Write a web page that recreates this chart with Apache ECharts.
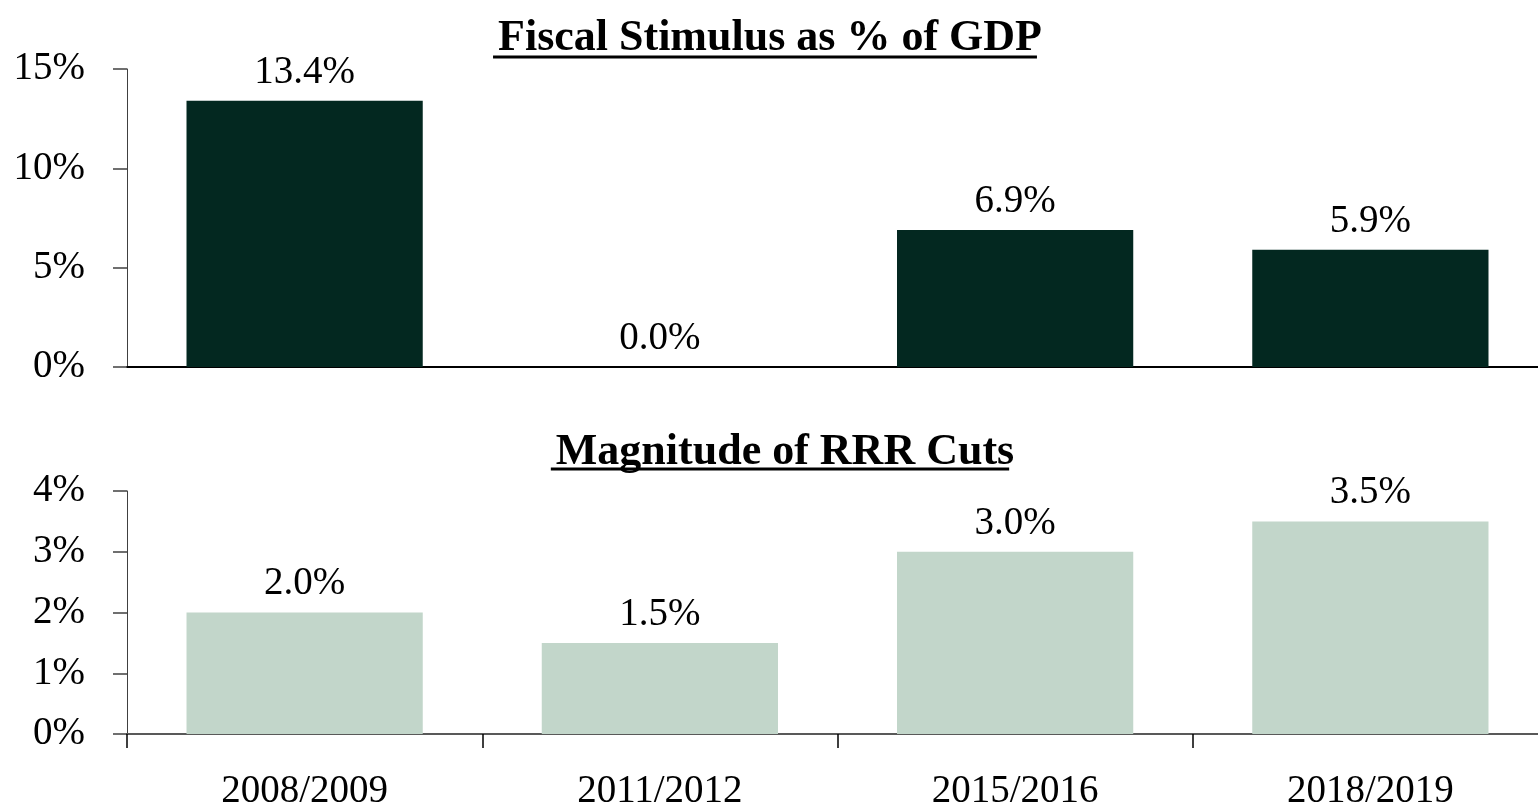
<!DOCTYPE html>
<html>
<head>
<meta charset="utf-8">
<script src="https://cdn.jsdelivr.net/npm/echarts@6/dist/echarts.min.js"></script>
<style>
  html, body { margin: 0; padding: 0; background: #fff; overflow: hidden; }
  /* the plot runs a little past the right edge of the page */
  #chart { width: 1548px; height: 811px; }
</style>
</head>
<body>
<div id="chart"></div>
<script>
const categories = ['2008/2009', '2011/2012', '2015/2016', '2018/2019']
const fiscalStimulus = [13.4, 0.0, 6.9, 5.9]
const rrrCuts = [2.0, 1.5, 3.0, 3.5]
const topTitle = 'Fiscal Stimulus as % of GDP'
const bottomTitle = 'Magnitude of RRR Cuts'

const FONT = '"Liberation Serif", "Times New Roman", serif'
const LABEL_SIZE = 39
const TITLE_SIZE = 44

function textWidth(text, font) {
  const ctx = document.createElement('canvas').getContext('2d')
  ctx.font = font
  return ctx.measureText(text).width
}

// echarts text has no underline, so draw one under each title
function underline(text, cx, y) {
  const w = textWidth(text, 'bold ' + TITLE_SIZE + 'px ' + FONT)
  return {
    type: 'line',
    shape: { x1: cx - w / 2, y1: y, x2: cx + w / 2, y2: y },
    style: { stroke: '#000', lineWidth: 3 }
  }
}

const chart = echarts.init(document.getElementById('chart'))

const labelStyle = { color: '#000', fontFamily: FONT, fontSize: LABEL_SIZE }

chart.setOption({
  animation: false,
  backgroundColor: '#fff',
  title: [
    {
      text: topTitle, left: 765, top: 12, textAlign: 'center',
      textStyle: { color: '#000', fontFamily: FONT, fontSize: TITLE_SIZE, fontWeight: 'bold' }
    },
    {
      text: bottomTitle, left: 780, top: 426, textAlign: 'center',
      textStyle: { color: '#000', fontFamily: FONT, fontSize: TITLE_SIZE, fontWeight: 'bold' }
    }
  ],
  graphic: [underline(topTitle, 765, 57), underline(bottomTitle, 780, 469)],
  grid: [
    { left: 127, right: 0, top: 69, height: 298 },
    { left: 127, right: 0, top: 491, height: 247 }
  ],
  xAxis: [
    {
      type: 'category', gridIndex: 0, data: categories,
      axisLine: { lineStyle: { color: '#000', width: 2 } },
      axisTick: { show: false },
      axisLabel: { show: false }
    },
    {
      type: 'category', gridIndex: 1, data: categories,
      axisLine: { lineStyle: { color: '#595959', width: 2 } },
      axisTick: { show: true, length: 14, lineStyle: { color: '#000', width: 1.5 } },
      axisLabel: { ...labelStyle, margin: 38 }
    }
  ],
  yAxis: [
    {
      type: 'value', gridIndex: 0, min: 0, max: 15, interval: 5,
      splitLine: { show: false },
      axisLine: { show: true, lineStyle: { color: '#404040', width: 1 } },
      axisTick: { show: true, length: 14, lineStyle: { color: '#404040', width: 1.5 } },
      axisLabel: { ...labelStyle, margin: 42, formatter: '{value}%' }
    },
    {
      type: 'value', gridIndex: 1, min: 0, max: 4, interval: 1,
      splitLine: { show: false },
      axisLine: { show: true, lineStyle: { color: '#404040', width: 1 } },
      axisTick: { show: true, length: 14, lineStyle: { color: '#404040', width: 1.5 } },
      axisLabel: { ...labelStyle, margin: 42, formatter: '{value}%' }
    }
  ],
  series: [
    {
      type: 'bar', xAxisIndex: 0, yAxisIndex: 0, data: fiscalStimulus,
      barCategoryGap: '33.5%',
      itemStyle: { color: '#032820' },
      label: {
        show: true, position: 'top', distance: 9, ...labelStyle,
        formatter: p => p.value.toFixed(1) + '%'
      }
    },
    {
      type: 'bar', xAxisIndex: 1, yAxisIndex: 1, data: rrrCuts,
      barCategoryGap: '33.5%',
      itemStyle: { color: '#c2d6ca' },
      label: {
        show: true, position: 'top', distance: 9, ...labelStyle,
        formatter: p => p.value.toFixed(1) + '%'
      }
    }
  ]
})
</script>
</body>
</html>
